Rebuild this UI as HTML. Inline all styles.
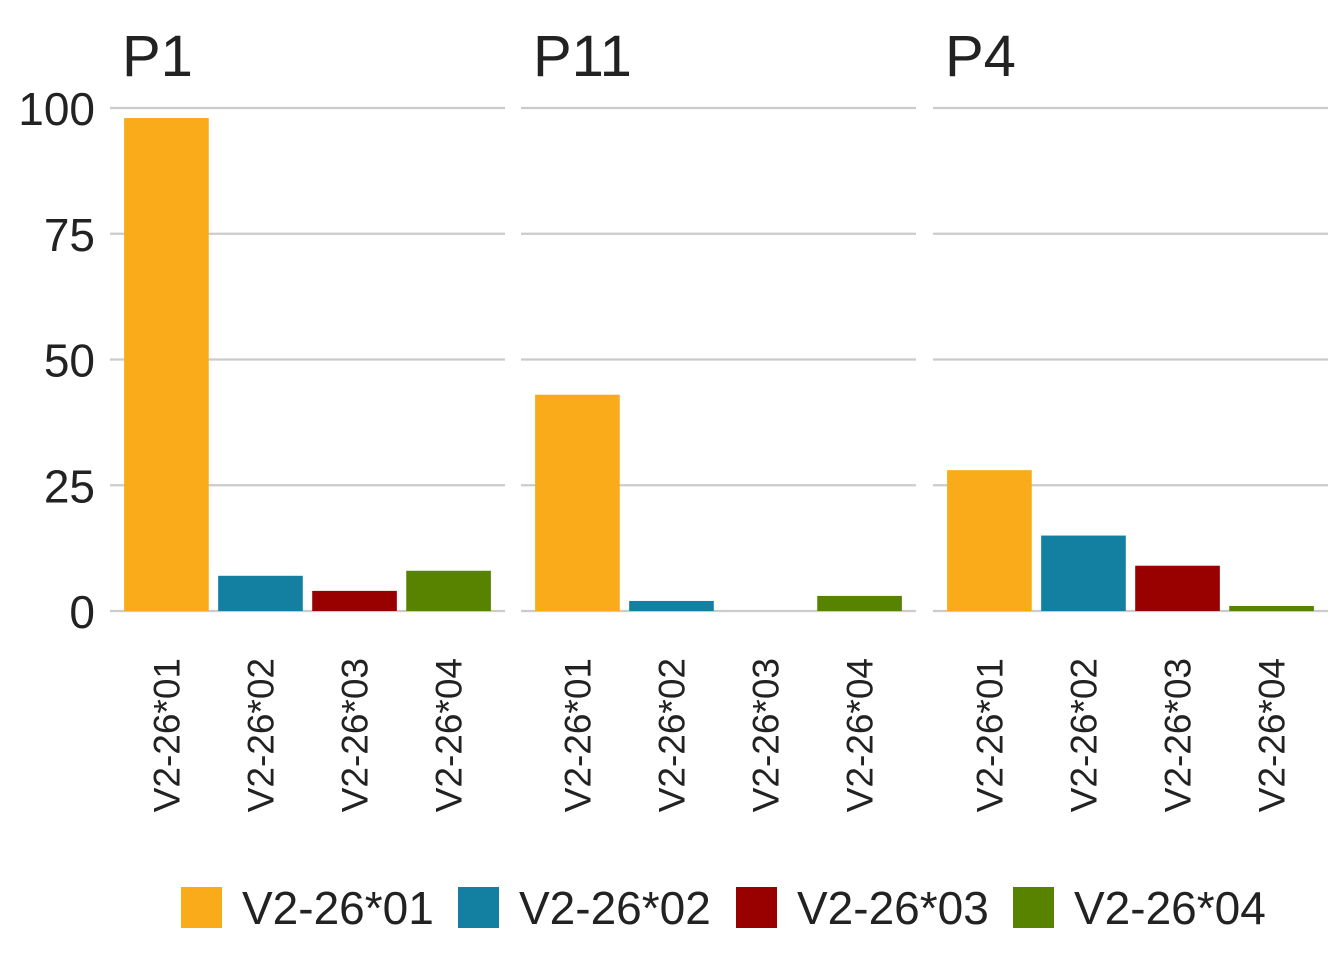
<!DOCTYPE html>
<html><head><meta charset="utf-8"><style>
html,body{margin:0;padding:0;background:#fff;}
svg{display:block;font-family:"Liberation Sans",sans-serif;}
</style></head><body>
<svg id="chart" width="1344" height="960" viewBox="0 0 1344 960"></svg>
<script>
const panels = ['P1','P11','P4'];
const categories = ['V2-26*01','V2-26*02','V2-26*03','V2-26*04'];
const valuesP1 = [98, 7, 4, 8];
const valuesP11 = [43, 2, 0, 3];
const valuesP4 = [28, 15, 9, 1];
const yTicks = [0, 25, 50, 75, 100];
const colors = ['#F9AB1A','#1380A1','#990000','#588300'];
const seriesByPanel = [valuesP1, valuesP11, valuesP4];

const NS='http://www.w3.org/2000/svg';
const svg=document.getElementById('chart');
function mk(tag, attrs, parent){const e=document.createElementNS(NS,tag);for(const k in attrs)e.setAttribute(k,attrs[k]);(parent||svg).appendChild(e);return e;}
const panelX=[110,521,933], panelW=395;
const y0=611, yPerUnit=(611-108)/100;
function yScale(v){return y0-v*yPerUnit;}
function xScale(p,i){const u=panelW/4.2;return panelX[p]+(0.6+i)*u;}
const bw=0.9*panelW/4.2;

// y labels
yTicks.forEach(t=>{
  const tx=mk('text',{x:95,y:yScale(t)+17,'text-anchor':'end','font-size':46,fill:'#222'});
  
  
  tx.textContent=t;
});

panels.forEach((p,pi)=>{
  const g=mk('g',{});
  
  
  const title=mk('text',{x:panelX[pi]+12,y:76,'font-size':58,fill:'#222'},g);
  
  
  title.textContent=p;
  yTicks.forEach(t=>{
    const l=mk('line',{x1:panelX[pi],x2:panelX[pi]+panelW,y1:yScale(t),y2:yScale(t),stroke:'#cbcbcb','stroke-width':2.2},g);
    
    
  });
  seriesByPanel[pi].forEach((v,i)=>{
    const cx=xScale(pi,i);
    const r=mk('rect',{x:cx-bw/2,y:yScale(v),width:bw,height:v*yPerUnit,fill:colors[i]},g);
    
    
    const tx=mk('text',{x:0,y:0,'font-size':37,fill:'#222','text-anchor':'end',transform:`translate(${cx+13},658) rotate(-90)`},g);
    
    
    tx.textContent=categories[i];
  });
});

// legend
const lg=mk('g',{});


const legX=[181,458,736,1013];
categories.forEach((c,i)=>{
  const r=mk('rect',{x:legX[i],y:887,width:41,height:41,fill:colors[i]},lg);
  
  
  const t=mk('text',{x:legX[i]+61,y:924,'font-size':46,fill:'#222'},lg);
  
  
  t.textContent=c;
});
</script>
</body></html>
